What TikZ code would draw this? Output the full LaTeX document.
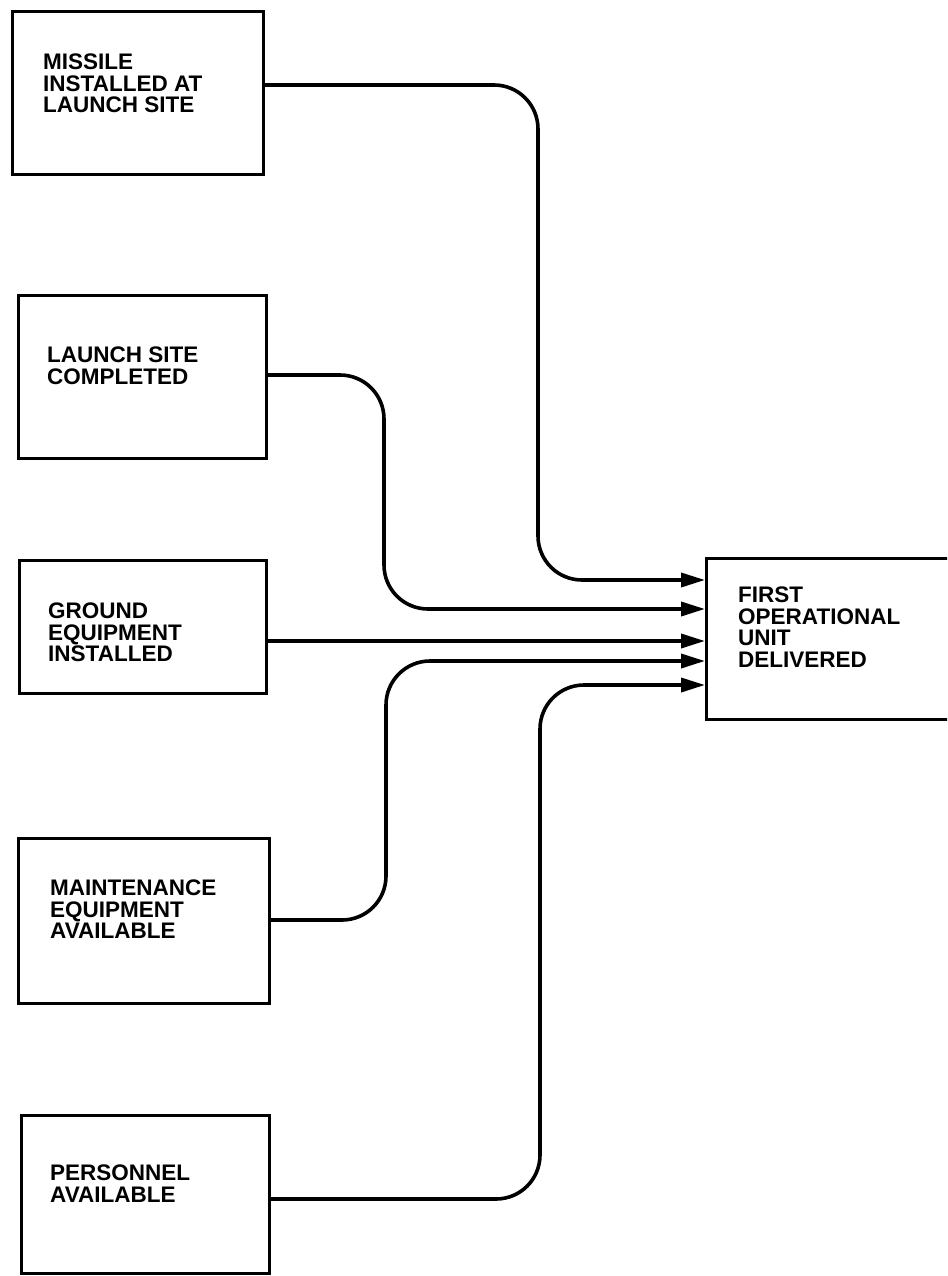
\documentclass[tikz,border=0pt]{standalone}
\usepackage{fontspec}
\setmainfont{Liberation Sans}
\usetikzlibrary{arrows.meta}
\tikzset{
  box/.style={draw, line width=3.2pt, inner sep=0pt, anchor=north west},
  lbl/.style={anchor=north west, inner sep=0pt, align=left,
    font=\fontsize{22.5pt}{21.5pt}\selectfont\bfseries},
  conn/.style={line width=3.6pt, rounded corners=44pt,
    -{Triangle[length=24pt,width=14pt]}},
}
\begin{document}
\begin{tikzpicture}[x=1pt,y=-1pt]
\useasboundingbox (0,0) rectangle (947,1276);
\clip (0,0) rectangle (947,1276);
\fill[white] (0,0) rectangle (947,1276);
% source boxes
\node[box, minimum width=251pt, minimum height=163pt] (b1) at (11,10) {};
\node[box, minimum width=248pt, minimum height=163pt] (b2) at (17,294) {};
\node[box, minimum width=247pt, minimum height=133pt] (b3) at (18,559) {};
\node[box, minimum width=251pt, minimum height=165pt] (b4) at (17,837) {};
\node[box, minimum width=248pt, minimum height=158pt] (b5) at (20,1114) {};
% target box
\node[box, minimum width=270pt, minimum height=161pt] (T) at (705,557) {};
% labels
\node[lbl] (t1) at (43,54) {MISSILE\\INSTALLED AT\\LAUNCH SITE};
\node[lbl] (t2) at (47,347) {LAUNCH SITE\\COMPLETED};
\node[lbl] (t3) at (48,603) {GROUND\\EQUIPMENT\\INSTALLED};
\node[lbl] (t4) at (50,880) {MAINTENANCE\\EQUIPMENT\\AVAILABLE};
\node[lbl] (t5) at (50,1165) {PERSONNEL\\AVAILABLE};
\node[lbl] (tT) at (738,587) {FIRST\\OPERATIONAL\\UNIT\\DELIVERED};
% connectors
\draw[conn] (b1.east |- 0,85) -| (538,580) -- (T.west |- 0,580);
\draw[conn] (b2.east |- 0,375) -| (384,609) -- (T.west |- 0,609);
\draw[conn] (b3.east |- 0,641) -- (T.west |- 0,641);
\draw[conn] (b4.east |- 0,920) -| (386,661) -- (T.west |- 0,661);
\draw[conn] (b5.east |- 0,1199) -| (540,685) -- (T.west |- 0,685);
\end{tikzpicture}
\end{document}
